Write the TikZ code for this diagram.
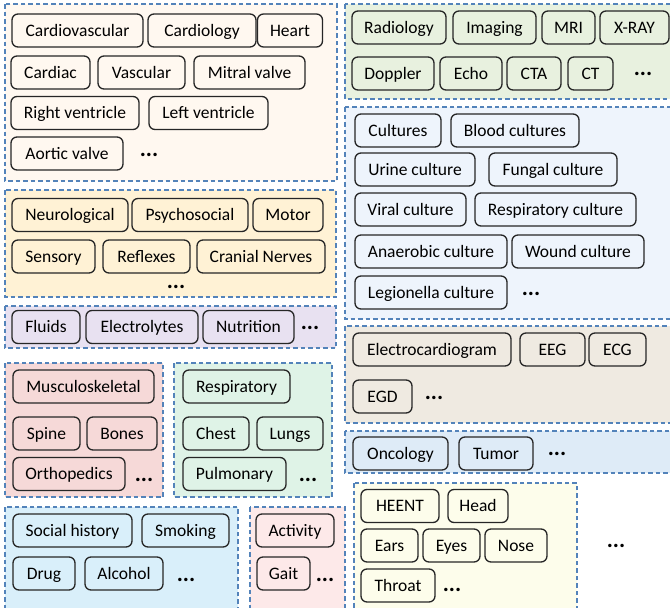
\documentclass[tikz,border=0pt]{standalone}
\usepackage{fontspec}
\setmainfont{Carlito}
\usepackage{xcolor}
\usepackage{tikz}
\usetikzlibrary{positioning}
\definecolor{dashblue}{HTML}{5383BA}
\definecolor{cardio}{HTML}{FFF8F0}
\definecolor{neuro}{HTML}{FFF2D5}
\definecolor{fluid}{HTML}{E8E1F1}
\definecolor{muscle}{HTML}{F6D9D8}
\definecolor{resp}{HTML}{DFF3E7}
\definecolor{social}{HTML}{D9EFFA}
\definecolor{activ}{HTML}{FDE9E9}
\definecolor{radio}{HTML}{E8F1DF}
\definecolor{cult}{HTML}{EEF4FC}
\definecolor{electro}{HTML}{EFEAE1}
\definecolor{onco}{HTML}{DEEBF7}
\definecolor{heent}{HTML}{FDFDEB}

\begin{document}
\begin{tikzpicture}[x=1pt,y=-1pt,
    tag/.style={draw=black!85, line width=1.3pt, rounded corners=6pt, minimum height=33pt, inner sep=0pt,
        text height=15pt, text depth=3.5pt, font=\fontsize{17.5}{20}\selectfont},
    grp/.style={draw=dashblue, line width=1.2pt, dash pattern=on 4.5pt off 3pt},
    more/.style={inner sep=0pt, font=\fontsize{23}{25}\selectfont\bfseries}]
    \useasboundingbox (0,0) rectangle (670,608);
    \clip (0,0) rectangle (670,608);

    % left column
    \draw[grp,fill=cardio] (5,4) rectangle (337,181);
    \node[tag,minimum width=131] (cardvasc) at (77.5,30.5) {Cardiovascular};
    \node[tag,minimum width=108] (cardiol) at (202,30.5) {Cardiology};
    \node[tag,minimum width=65] (heart) at (290,30.5) {Heart};
    \node[tag,minimum width=79] (cardiac) at (50.5,72.5) {Cardiac};
    \node[tag,minimum width=87] (vasc) at (141.5,72.5) {Vascular};
    \node[tag,minimum width=111] (mitral) at (249.5,72.5) {Mitral valve};
    \node[tag,minimum width=128] (rventr) at (75,113) {Right ventricle};
    \node[tag,minimum width=119] (lventr) at (208.5,113) {Left ventricle};
    \node[tag,minimum width=112] (aortic) at (67,153.5) {Aortic valve};
    \node[more] (cardmore) at (149,155) {...};

    \draw[grp,fill=neuro] (5,190) rectangle (336,297);
    \node[tag,minimum width=116] (neuro) at (70,215) {Neurological};
    \node[tag,minimum width=116] (psycho) at (190,215) {Psychosocial};
    \node[tag,minimum width=70] (motor) at (288,215) {Motor};
    \node[tag,minimum width=83] (sensory) at (53.5,256.5) {Sensory};
    \node[tag,minimum width=87] (reflex) at (146.5,256.5) {Reflexes};
    \node[tag,minimum width=128] (cranial) at (261,256.5) {Cranial Nerves};
    \node[more] (neuromore) at (176,287) {...};

    \draw[grp,fill=fluid] (5,306) rectangle (336,348);
    \node[tag,minimum width=68] (fluids) at (46,327) {Fluids};
    \node[tag,minimum width=112] (electrolytes) at (142,327) {Electrolytes};
    \node[tag,minimum width=91] (nutrition) at (248.5,327) {Nutrition};
    \node[more] (fluidmore) at (310,328) {...};

    \draw[grp,fill=muscle] (5,363) rectangle (163,497);
    \node[tag,minimum width=141] (musculo) at (83.5,386.5) {Musculoskeletal};
    \node[tag,minimum width=67] (spine) at (46.5,433.5) {Spine};
    \node[tag,minimum width=70] (bones) at (122,433.5) {Bones};
    \node[tag,minimum width=112] (ortho) at (69,474) {Orthopedics};
    \node[more] (musclemore) at (144,480) {...};

    \draw[grp,fill=resp] (174,363) rectangle (332,497);
    \node[tag,minimum width=107] (respir) at (236.5,386.5) {Respiratory};
    \node[tag,minimum width=66] (chest) at (216,433.5) {Chest};
    \node[tag,minimum width=66] (lungs) at (290,433.5) {Lungs};
    \node[tag,minimum width=103] (pulmo) at (234.5,474) {Pulmonary};
    \node[more] (respmore) at (308,480) {...};

    \draw[grp,fill=social] (5,507) rectangle (238,615);
    \node[tag,minimum width=119] (socialhist) at (72.5,530.5) {Social history};
    \node[tag,minimum width=87] (smoking) at (185.5,530.5) {Smoking};
    \node[tag,minimum width=62] (drug) at (44,573.5) {Drug};
    \node[tag,minimum width=78] (alcohol) at (124,573.5) {Alcohol};
    \node[more] (socialmore) at (186,580) {...};

    \draw[grp,fill=activ] (250,507) rectangle (345,615);
    \node[tag,minimum width=78] (activity) at (295,530.5) {Activity};
    \node[tag,minimum width=53] (gait) at (283.5,573.5) {Gait};
    \node[more] (activmore) at (325,580) {...};

    % right column
    \draw[grp,fill=radio] (345,4) rectangle (675,99);
    \node[tag,minimum width=94] (radiol) at (399,27.5) {Radiology};
    \node[tag,minimum width=83] (imaging) at (494.5,27.5) {Imaging};
    \node[tag,minimum width=53] (mri) at (568.5,27.5) {MRI};
    \node[tag,minimum width=69] (xray) at (634.5,27.5) {X-RAY};
    \node[tag,minimum width=82] (doppler) at (393,73.5) {Doppler};
    \node[tag,minimum width=62] (echo) at (471,73.5) {Echo};
    \node[tag,minimum width=54] (cta) at (534,73.5) {CTA};
    \node[tag,minimum width=45] (ct) at (590.5,73.5) {CT};
    \node[more] (radiomore) at (643,74) {...};

    \draw[grp,fill=cult] (345,107) rectangle (675,319);
    \node[tag,minimum width=86] (cultures) at (398,130.5) {Cultures};
    \node[tag,minimum width=128] (blood) at (515,130.5) {Blood cultures};
    \node[tag,minimum width=120] (urine) at (415,169.5) {Urine culture};
    \node[tag,minimum width=128] (fungal) at (553,169.5) {Fungal culture};
    \node[tag,minimum width=111] (viral) at (410.5,209.5) {Viral culture};
    \node[tag,minimum width=161] (respcult) at (555.5,209.5) {Respiratory culture};
    \node[tag,minimum width=152] (anaerob) at (431,251.5) {Anaerobic culture};
    \node[tag,minimum width=132] (wound) at (578,251.5) {Wound culture};
    \node[tag,minimum width=152] (legion) at (431,292.5) {Legionella culture};
    \node[more] (cultmore) at (531,294) {...};

    \draw[grp,fill=electro] (345,326) rectangle (675,423);
    \node[tag,minimum width=158] (ecardiogram) at (432,349.5) {Electrocardiogram};
    \node[tag,minimum width=65] (eeg) at (552.5,349.5) {EEG};
    \node[tag,minimum width=57] (ecg) at (617.5,349.5) {ECG};
    \node[tag,minimum width=59] (egd) at (382.5,396.5) {EGD};
    \node[more] (electromore) at (434,398) {...};

    \draw[grp,fill=onco] (345,431) rectangle (675,473);
    \node[tag,minimum width=95] (oncology) at (400.5,453.5) {Oncology};
    \node[tag,minimum width=74] (tumor) at (496,453.5) {Tumor};
    \node[more] (oncomore) at (557,454) {...};

    \draw[grp,fill=heent] (354,483) rectangle (577,615);
    \node[tag,minimum width=78] (heentn) at (400,506) {HEENT};
    \node[tag,minimum width=60] (head) at (478,506) {Head};
    \node[tag,minimum width=57] (ears) at (389.5,545.5) {Ears};
    \node[tag,minimum width=57] (eyes) at (451.5,545.5) {Eyes};
    \node[tag,minimum width=62] (nose) at (516,545.5) {Nose};
    \node[tag,minimum width=74] (throat) at (398,585.5) {Throat};
    \node[more] (heentmore) at (452,590) {...};
    \node[more] (allmore) at (616,546) {...};
\end{tikzpicture}
\end{document}
